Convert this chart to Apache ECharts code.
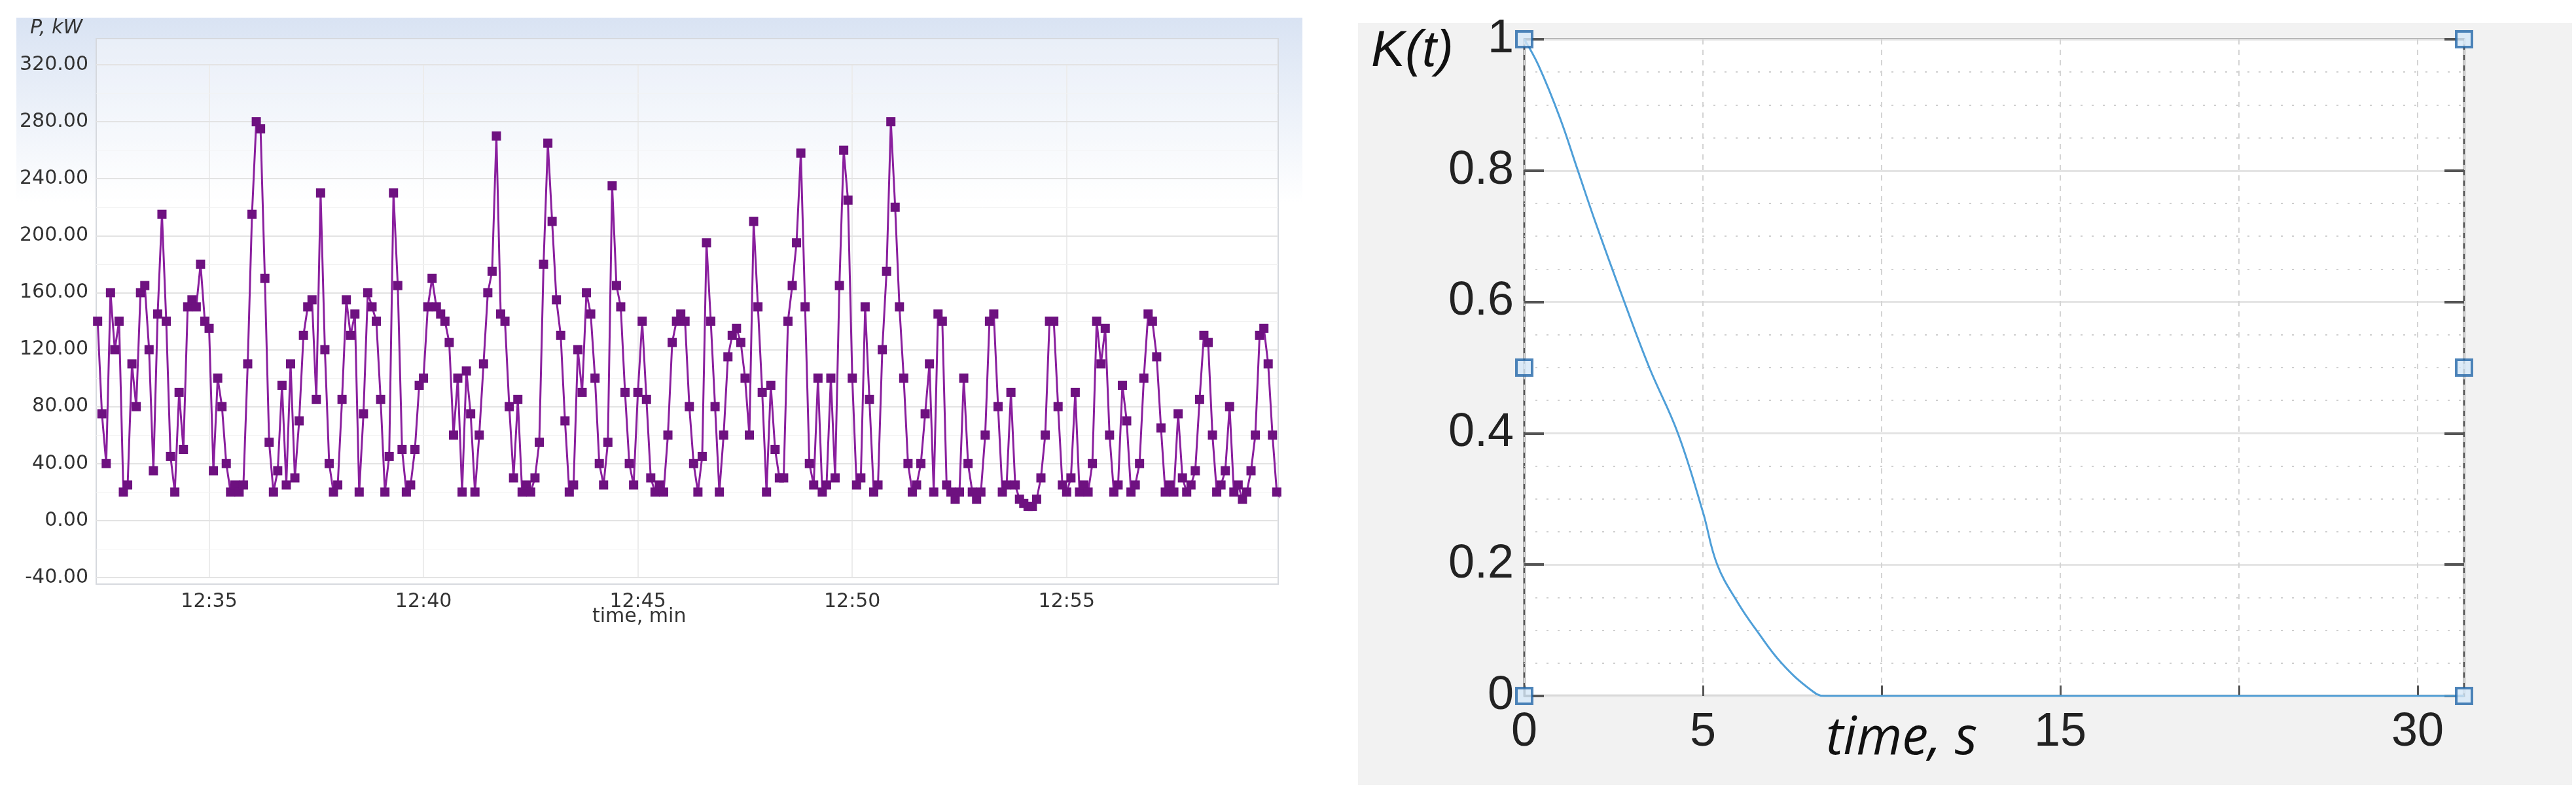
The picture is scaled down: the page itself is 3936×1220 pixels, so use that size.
<!DOCTYPE html>
<html><head><meta charset="utf-8">
<script src="https://cdn.jsdelivr.net/npm/echarts@6/dist/echarts.min.js"></script>
<style>html,body{margin:0;background:#fff}#c{width:3936px;height:1220px}</style>
</head><body><div id="c"></div>
<script>
// Left chart: power samples, one every 6 s starting 12:32:24
const powerStart = [2020, 0, 1, 12, 32, 24];
const powerStepSec = 6;
const powerValues = [
140,75,40,160,120,140,20,25,110,80,
160,165,120,35,145,215,140,45,20,90,
50,150,155,150,180,140,135,35,100,80,
40,20,25,20,25,110,215,280,275,170,
55,20,35,95,25,110,30,70,130,150,
155,85,230,120,40,20,25,85,155,130,
145,20,75,160,150,140,85,20,45,230,
165,50,20,25,50,95,100,150,170,150,
145,140,125,60,100,20,105,75,20,60,
110,160,175,270,145,140,80,30,85,20,
25,20,30,55,180,265,210,155,130,70,
20,25,120,90,160,145,100,40,25,55,
235,165,150,90,40,25,90,140,85,30,
20,25,20,60,125,140,145,140,80,40,
20,45,195,140,80,20,60,115,130,135,
125,100,60,210,150,90,20,95,50,30,
30,140,165,195,258,150,40,25,100,20,
25,100,30,165,260,225,100,25,30,150,
85,20,25,120,175,280,220,150,100,40,
20,25,40,75,110,20,145,140,25,20,
15,20,100,40,20,15,20,60,140,145,
80,20,25,90,25,15,12,10,10,15,
30,60,140,140,80,25,20,30,90,20,
25,20,40,140,110,135,60,20,25,95,
70,20,25,40,100,145,140,115,65,20,
25,20,75,30,20,25,35,85,130,125,
60,20,25,35,80,20,25,15,20,35,
60,130,135,110,60,20,15];
const powerXTicks = ['12:35','12:40','12:45','12:50','12:55'];

// Right chart: K(t)
const kTime = [0,0.4,1,1.5,2,2.8,3.5,4.3,5,5.4,6,6.5,7.2,8,8.4,26.3];
const kValue = [1,0.96,0.88,0.8,0.72,0.6,0.5,0.4,0.28,0.2,0.14,0.1,0.05,0.01,0,0];
const kXLabels = {0:'0',5:'5',10:'',15:'15',20:'',25:'30'};
const kMarkers = [[0,0],[0,0.5],[0,1],[26.3,0],[26.3,0.5],[26.3,1]];

const t0 = new Date(...powerStart).getTime();
const powerData = powerValues.map((v,i)=>[t0 + i*powerStepSec*1000, v]);
const xMin = new Date(2020,0,1,12,32,22).getTime();
const xMax = new Date(2020,0,1,12,59,56).getTime();
const tickTimes = powerXTicks.map(s=>{const [h,m]=s.split(':').map(Number);return new Date(2020,0,1,h,m,0).getTime();});

const chart = echarts.init(document.getElementById('c'));
const narrow = "'Liberation Sans Narrow','Liberation Sans',Arial";
chart.setOption({
  animation:false,
  graphic:[
    {type:'rect',z:-10,shape:{x:25,y:27,width:1965,height:940},
     style:{fill:new echarts.graphic.LinearGradient(0,0,0,1,[{offset:0,color:'#d9e3f3'},{offset:0.3,color:'#ffffff'},{offset:1,color:'#ffffff'}])}},
    {type:'rect',z:-5,shape:{x:147,y:59,width:1806,height:834},style:{fill:'rgba(255,255,255,0.35)',stroke:'#d6d9de',lineWidth:2}},
    {type:'text',left:46,top:28,style:{text:'P, kW',font:'italic 30px "DejaVu Sans"',fill:'#333'}},
    {type:'text',left:905,top:928,style:{text:'time, min',font:'30px "DejaVu Sans"',fill:'#333'}},
    {type:'rect',z:-10,shape:{x:2075,y:35,width:1855,height:1165},style:{fill:'#f2f2f2'}},
    {type:'text',left:2095,top:40,style:{text:'K(t)',font:'italic 78px "Liberation Sans"',fill:'#111'}},
    {type:'text',left:2790,top:1090,style:{text:'time, s',font:'italic 80px "Open Sans"',fill:'#111'}}
  ],
  grid:[
    {left:147,top:99,width:1806,height:784},
    {left:2329,top:60,width:1436,height:1004,show:true,backgroundColor:'#fff',borderColor:'#555',borderWidth:3}
  ],
  xAxis:[
    {type:'time',gridIndex:0,min:xMin,max:xMax,
     axisLine:{show:false},axisTick:{show:false},
     axisLabel:{customValues:tickTimes,formatter:'{HH}:{mm}',fontSize:30,color:'#333',margin:22,fontFamily:'DejaVu Sans'},
     splitLine:{show:false}},
    {type:'value',gridIndex:1,min:0,max:26.3,interval:5,
     axisLine:{show:false},axisTick:{inside:true,length:16,lineStyle:{color:'#555',width:3}},
     axisLabel:{formatter:v=>kXLabels[v]!==undefined?kXLabels[v]:'',fontSize:72,color:'#222',margin:20,fontFamily:narrow,showMaxLabel:false},
     splitLine:{show:true,lineStyle:{color:'#d4d4d4',width:2,type:[8,8]}}}
  ],
  yAxis:[
    {type:'value',gridIndex:0,min:-40,max:320,interval:40,
     axisLine:{show:false},axisTick:{show:false},
     axisLabel:{formatter:v=>v.toFixed(2),fontSize:30,color:'#333',margin:12,fontFamily:'DejaVu Sans'},
     splitLine:{lineStyle:{color:'#e3e3e3',width:2}},
     minorTick:{show:false,splitNumber:2},minorSplitLine:{show:true,lineStyle:{color:'#f2f2f2',width:1}}},
    {type:'value',gridIndex:1,min:0,max:1,interval:0.2,
     axisLine:{show:false},axisTick:{inside:true,length:30,lineStyle:{color:'#555',width:4}},
     axisLabel:{formatter:v=>String(Math.round(v*10)/10),fontSize:72,color:'#222',margin:16,fontFamily:narrow},
     splitLine:{lineStyle:{color:'#e4e4e4',width:3}},
     minorTick:{show:false,splitNumber:4},minorSplitLine:{show:true,lineStyle:{color:'#cfcfcf',width:2,type:[3,14]}}},
    {type:'value',gridIndex:1,min:0,max:1,interval:0.2,position:'right',
     axisLine:{show:false},axisTick:{inside:true,length:30,lineStyle:{color:'#555',width:4}},
     axisLabel:{show:false},splitLine:{show:false}}
  ],
  series:[
    {type:'line',xAxisIndex:0,yAxisIndex:0,data:powerData,symbol:'rect',symbolSize:14,
     lineStyle:{color:'#8a1f9e',width:3},itemStyle:{color:'#6e1180'},
     markLine:{silent:true,symbol:'none',label:{show:false},z:-1,
       lineStyle:{color:'#ececec',width:2,type:'solid'},data:tickTimes.map(t=>({xAxis:t}))}},
    {type:'line',xAxisIndex:1,yAxisIndex:1,data:kTime.map((t,i)=>[t,kValue[i]]),smooth:0.4,showSymbol:false,
     lineStyle:{color:'#4f9fd8',width:3}},
    {type:'scatter',xAxisIndex:1,yAxisIndex:1,data:kMarkers,symbol:'rect',symbolSize:24,clip:false,z:5,
     itemStyle:{color:'#d4e7f7',borderColor:'#2366a8',borderWidth:4}}
  ]
});
</script></body></html>
